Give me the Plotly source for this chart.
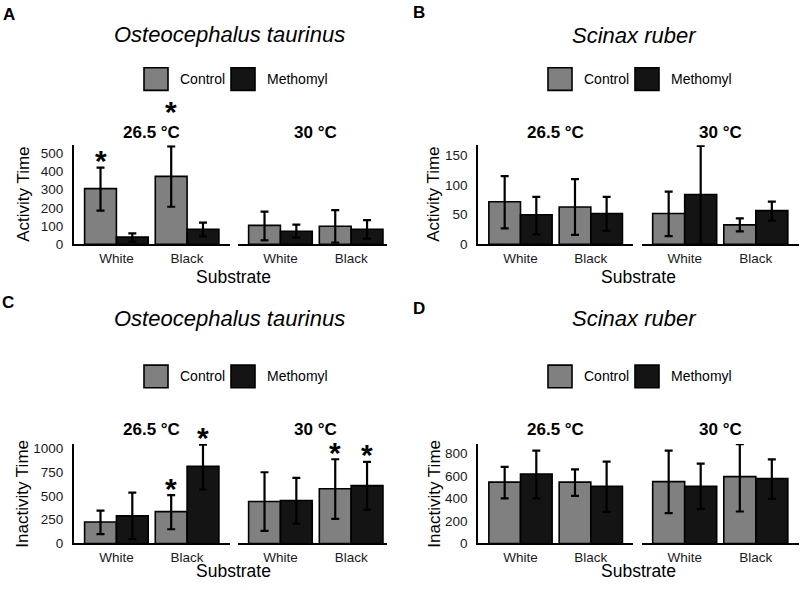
import plotly.graph_objects as go

W, H = 800, 590
FONT = "Liberation Sans, Arial, Helvetica, sans-serif"

# ---------------- data ----------------
substrates = ["White", "Black"]
temps = ["26.5 °C", "30 °C"]
groups = ["Control", "Methomyl"]
group_colors = {"Control": "#808080", "Methomyl": "#141414"}

# Panel A: Osteocephalus taurinus - Activity Time
A_ctrl = {"26.5 °C": [305, 372], "30 °C": [104, 99]}
A_ctrl_hi = {"26.5 °C": [420, 536], "30 °C": [179, 187]}
A_ctrl_lo = {"26.5 °C": [185, 206], "30 °C": [22, 10]}
A_meth = {"26.5 °C": [40, 83], "30 °C": [72, 83]}
A_meth_hi = {"26.5 °C": [60, 119], "30 °C": [108, 133]}
A_meth_lo = {"26.5 °C": [15, 44], "30 °C": [37, 32]}

# Panel B: Scinax ruber - Activity Time
B_ctrl = {"26.5 °C": [72, 63], "30 °C": [52, 33]}
B_ctrl_hi = {"26.5 °C": [115, 110], "30 °C": [89, 44]}
B_ctrl_lo = {"26.5 °C": [27, 16], "30 °C": [14, 22]}
B_meth = {"26.5 °C": [50, 52], "30 °C": [84, 57]}
B_meth_hi = {"26.5 °C": [80, 80], "30 °C": [166, 72]}
B_meth_lo = {"26.5 °C": [17, 23], "30 °C": [0, 40]}

# Panel C: Osteocephalus taurinus - Inactivity Time
C_ctrl = {"26.5 °C": [225, 334], "30 °C": [440, 574]}
C_ctrl_hi = {"26.5 °C": [344, 508], "30 °C": [748, 885]}
C_ctrl_lo = {"26.5 °C": [98, 149], "30 °C": [132, 259]}
C_meth = {"26.5 °C": [290, 810], "30 °C": [451, 608]}
C_meth_hi = {"26.5 °C": [533, 1039], "30 °C": [690, 857]}
C_meth_lo = {"26.5 °C": [46, 567], "30 °C": [207, 354]}

# Panel D: Scinax ruber - Inactivity Time
D_ctrl = {"26.5 °C": [545, 545], "30 °C": [550, 594]}
D_ctrl_hi = {"26.5 °C": [681, 658], "30 °C": [826, 884]}
D_ctrl_lo = {"26.5 °C": [400, 423], "30 °C": [270, 284]}
D_meth = {"26.5 °C": [617, 507], "30 °C": [507, 577]}
D_meth_hi = {"26.5 °C": [826, 728], "30 °C": [710, 748]}
D_meth_lo = {"26.5 °C": [400, 281], "30 °C": [307, 397]}

# significance stars: (temp, substrate, group)
A_stars = [("26.5 °C", "White", "Control"), ("26.5 °C", "Black", "Control")]
C_stars = [("26.5 °C", "Black", "Control"), ("26.5 °C", "Black", "Methomyl"),
           ("30 °C", "Black", "Control"), ("30 °C", "Black", "Methomyl")]

y_ticks_A = [0, 100, 200, 300, 400, 500]
y_ticks_B = [0, 50, 100, 150]
y_ticks_C = [0, 250, 500, 750, 1000]
y_ticks_D = [0, 200, 400, 600, 800]

# ---------------- layout helpers ----------------
def px_x(p):
    return p / W

def px_y(p):
    return 1 - p / H

panels = [
    dict(letter="A", title="Osteocephalus taurinus", ylab="Activity Time",
         ctrl=(A_ctrl, A_ctrl_hi, A_ctrl_lo), meth=(A_meth, A_meth_hi, A_meth_lo),
         yrange=542, yticks=y_ticks_A, stars=A_stars,
         fx=[(74, 229.5, 1.6), (238, 387, 1.507)], top=145, bot=246,
         letter_xy=(9, 12), title_y=32, leg_y=77.5, leg_x0=144, facet_y=131.5,
         xt_y=279, yl_x=24),
    dict(letter="B", title="Scinax ruber", ylab="Activity Time",
         ctrl=(B_ctrl, B_ctrl_hi, B_ctrl_lo), meth=(B_meth, B_meth_hi, B_meth_lo),
         yrange=167, yticks=y_ticks_B, stars=[],
         fx=[(478.3, 633, 1.6), (642, 798.5, 1.6)], top=145, bot=246,
         letter_xy=(419, 10), title_y=33, leg_y=77.5, leg_x0=548, facet_y=131.5,
         xt_y=279, yl_x=434),
    dict(letter="C", title="Osteocephalus taurinus", ylab="Inactivity Time",
         ctrl=(C_ctrl, C_ctrl_hi, C_ctrl_lo), meth=(C_meth, C_meth_hi, C_meth_lo),
         yrange=1046, yticks=y_ticks_C, stars=C_stars,
         fx=[(74, 229.5, 1.6), (238, 387, 1.507)], top=449.3, bot=550.7,
         letter_xy=(8, 305), title_y=322, leg_y=380.5, leg_x0=144, facet_y=435,
         xt_y=578.5, yl_x=23),
    dict(letter="D", title="Scinax ruber", ylab="Inactivity Time",
         ctrl=(D_ctrl, D_ctrl_hi, D_ctrl_lo), meth=(D_meth, D_meth_hi, D_meth_lo),
         yrange=885, yticks=y_ticks_D, stars=[],
         fx=[(478.3, 633, 1.6), (642, 798.5, 1.6)], top=449.3, bot=550.7,
         letter_xy=(419, 311), title_y=322, leg_y=380.5, leg_x0=548, facet_y=435,
         xt_y=578.5, yl_x=435),
]

fig = go.Figure()
annotations = []
shapes = []
layout_axes = {}

ax_idx = 0
for p in panels:
    ctrl, ctrl_hi, ctrl_lo = p["ctrl"]
    meth, meth_hi, meth_lo = p["meth"]
    for fi, temp in enumerate(temps):
        ax_idx += 1
        xa = "x" if ax_idx == 1 else f"x{ax_idx}"
        ya = "y" if ax_idx == 1 else f"y{ax_idx}"
        xkey = "xaxis" if ax_idx == 1 else f"xaxis{ax_idx}"
        ykey = "yaxis" if ax_idx == 1 else f"yaxis{ax_idx}"
        x0, x1, xr1 = p["fx"][fi]
        for g, vals, hi, lo in [("Control", ctrl, ctrl_hi, ctrl_lo),
                                ("Methomyl", meth, meth_hi, meth_lo)]:
            v = vals[temp]
            fig.add_trace(go.Bar(
                x=substrates, y=v, name=g, showlegend=False,
                offsetgroup=g,
                marker=dict(color=group_colors[g], line=dict(color="black", width=1.6)),
                error_y=dict(type="data", symmetric=False,
                             array=[h - m for h, m in zip(hi[temp], v)],
                             arrayminus=[m - l for m, l in zip(v, lo[temp])],
                             color="black", thickness=2.2, width=4),
                xaxis=xa, yaxis=ya, hoverinfo="skip",
            ))
        layout_axes[xkey] = dict(
            domain=[px_x(x0), px_x(x1)], anchor=ya, type="category",
            categoryorder="array", categoryarray=substrates,
            range=[-0.6, xr1], showline=True, linecolor="black", linewidth=2,
            ticks="", showgrid=False, zeroline=False, fixedrange=True,
            tickfont=dict(family=FONT, size=13.5, color="#1a1a1a"),
        )
        layout_axes[ykey] = dict(
            domain=[px_y(p["bot"]), px_y(p["top"])], anchor=xa,
            range=[0, p["yrange"]], tickvals=p["yticks"],
            showline=(fi == 0), linecolor="black", linewidth=2,
            showticklabels=(fi == 0), ticks="", showgrid=False, zeroline=False,
            ticklabelstandoff=6,
            tickfont=dict(family=FONT, size=13.5, color="#1a1a1a"), fixedrange=True,
        )
        # facet title
        xfull1 = x0 + (x1 - x0) * 2.2 / (xr1 + 0.6)
        annotations.append(dict(
            x=px_x((x0 + xfull1) / 2), y=px_y(p["facet_y"]), xref="paper", yref="paper",
            text=f"<b>{temp}</b>", showarrow=False, xanchor="center", yanchor="middle",
            font=dict(family=FONT, size=17, color="black")))
        # stars
        for (t, s, g) in p["stars"]:
            if t != temp:
                continue
            si = substrates.index(s)
            off = -0.225 if g == "Control" else 0.225
            hi = (ctrl_hi if g == "Control" else meth_hi)[temp][si]
            shift = 37 if (p["letter"] == "A" and s == "Black") else 9
            annotations.append(dict(
                x=si + off, y=hi, xref=xa, yref=ya, text="<b>*</b>",
                showarrow=False, xanchor="center", yanchor="middle", yshift=shift - 2,
                font=dict(family=FONT, size=30, color="black")))
    # panel-level texts
    x_left = p["fx"][0][0]
    x_right_full = p["fx"][1][0] + (p["fx"][1][1] - p["fx"][1][0]) * 2.2 / (p["fx"][1][2] + 0.6)
    xc = (x_left + x_right_full) / 2
    annotations.append(dict(
        x=px_x(p["letter_xy"][0]), y=px_y(p["letter_xy"][1]), xref="paper", yref="paper",
        text=f"<b>{p['letter']}</b>", showarrow=False, xanchor="center", yanchor="middle",
        font=dict(family=FONT, size=17, color="black")))
    annotations.append(dict(
        x=px_x(xc - 4), y=px_y(p["title_y"]), xref="paper", yref="paper",
        text=f"<i>{p['title']}</i>", showarrow=False, xanchor="center", yanchor="middle",
        font=dict(family=FONT, size=22, color="black")))
    annotations.append(dict(
        x=px_x(xc), y=px_y(p["xt_y"]), xref="paper", yref="paper",
        text="Substrate", showarrow=False, xanchor="center", yanchor="middle",
        font=dict(family=FONT, size=17.5, color="black")))
    annotations.append(dict(
        x=px_x(p["yl_x"]), y=px_y((p["top"] + p["bot"]) / 2), xref="paper", yref="paper",
        text=p["ylab"], showarrow=False, xanchor="center", yanchor="middle", textangle=-90,
        font=dict(family=FONT, size=17, color="black")))
    # legend
    lx = p["leg_x0"]
    ly = p["leg_y"]
    key_pos = [(lx, lx + 34), (lx + 87, lx + 121)]
    for g, (kx, tx) in zip(groups, key_pos):
        shapes.append(dict(
            type="rect", xref="paper", yref="paper",
            x0=px_x(kx), x1=px_x(kx + 24), y0=px_y(ly + 11.5), y1=px_y(ly - 11.5),
            fillcolor=group_colors[g], line=dict(color="black", width=1.6)))
        annotations.append(dict(
            x=px_x(tx), y=px_y(ly), xref="paper", yref="paper", text=g,
            showarrow=False, xanchor="left", yanchor="middle",
            font=dict(family=FONT, size=14, color="black")))

fig.update_layout(
    width=W, height=H, margin=dict(l=0, r=0, t=0, b=0),
    paper_bgcolor="white", plot_bgcolor="white",
    barmode="group", bargap=0.1, bargroupgap=0,
    annotations=annotations, shapes=shapes,
    font=dict(family=FONT, color="black"),
    **layout_axes,
)

fig.write_html("out.html", config={"displayModeBar": False})
